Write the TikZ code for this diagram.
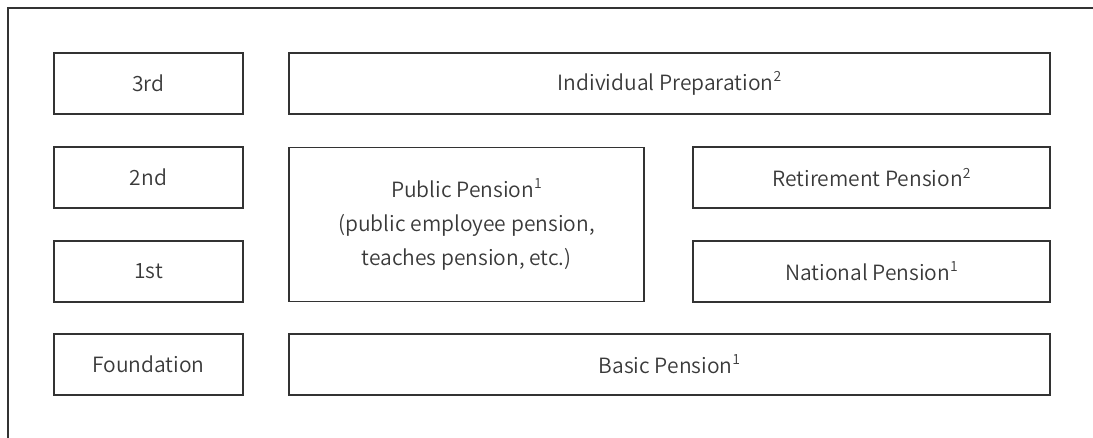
\documentclass[tikz,border=0pt]{standalone}
\usepackage{fontspec}
\setmainfont{Noto Sans CJK KR DemiLight}
\definecolor{txt}{HTML}{3A3A3A}
\definecolor{edge}{HTML}{333333}
\begin{document}
\begin{tikzpicture}[x=1pt,y=-1pt,
  tier/.style={draw=edge, line width=1.1pt, rectangle, inner sep=0pt,
    text=txt, align=center, font=\fontsize{21}{34}\selectfont}]
  \newcommand{\fnmark}[1]{\raisebox{0.42em}{\fontsize{14}{14}\selectfont #1}}
  \useasboundingbox (0,0) rectangle (1093,438);
  % outer frame (only top and left edges fall inside the page)
  \draw[edge, line width=1.3pt] (8,440) -- (8,8) -- (1095,8);

  % tier labels
  \node[tier, minimum width=189, minimum height=61] (third) at (148.5,83.5) {3rd};
  \node[tier, minimum width=189, minimum height=61] (second) at (148.5,177.5) {2nd};
  \node[tier, minimum width=189, minimum height=61] (first) at (148.5,271.5) {1st};
  \node[tier, minimum width=189, minimum height=61] (found) at (148.5,364.5) {Foundation};

  % pension schemes
  \node[tier, minimum width=761, minimum height=61] (indiv) at (669.5,83.5) {Individual Preparation\fnmark{2}};
  \node[tier, minimum width=355, minimum height=154] (public) at (466.5,224.5)
    {Public Pension\fnmark{1}\\(public employee pension,\\teaches pension, etc.)};
  \node[tier, minimum width=357, minimum height=61] (retire) at (871.5,177.5) {Retirement Pension\fnmark{2}};
  \node[tier, minimum width=357, minimum height=61] (national) at (871.5,271.5) {National Pension\fnmark{1}};
  \node[tier, minimum width=761, minimum height=61] (basic) at (669.5,364.5) {Basic Pension\fnmark{1}};
\end{tikzpicture}
\end{document}
